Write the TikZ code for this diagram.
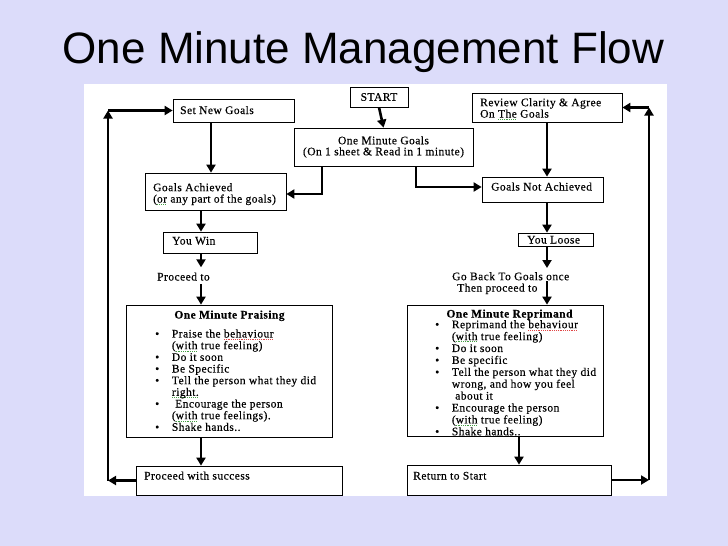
\documentclass[tikz,border=0pt]{standalone}
\usepackage{fontspec}
\setmainfont{Liberation Serif}
\newfontfamily\titlefont{Liberation Sans}
\newfontfamily\boxfont[LetterSpace=4,FakeBold=0.35]{Liberation Serif}
\usetikzlibrary{arrows.meta}
\definecolor{slidebg}{RGB}{220,220,250}
\definecolor{sqred}{RGB}{225,70,70}
\definecolor{sqgreen}{RGB}{70,160,70}
\newsavebox\spellbox
\newcommand\spellmark[2]{\sbox\spellbox{#2}\leavevmode\rlap{\hbox to \wd\spellbox{\color{#1}\xleaders\hbox{\rule[-2.0pt]{0.9pt}{0.6pt}\kern0.9pt}\hfill}}\usebox\spellbox}
\newcommand\spellr[1]{\spellmark{sqred}{#1}}
\newcommand\spellg[1]{\spellmark{sqgreen}{#1}}
\newcommand\bul{\makebox[16.7pt][l]{\textbullet}}
\newcommand\lind{\hspace*{16.7pt}}
\begin{document}
\begin{tikzpicture}[x=1pt,y=-1pt,
  box/.style={draw=black, line width=0.75pt, fill=white, inner sep=0pt, rectangle},
  txt/.style={inner sep=0pt, font=\boxfont\fontsize{11.5}{11.4}\selectfont, align=left},
  txtP/.style={inner sep=0pt, font=\boxfont\fontsize{11.5}{11.67}\selectfont, align=left},
  txtR/.style={inner sep=0pt, font=\boxfont\fontsize{11.5}{11.9}\selectfont, align=left},
  arr/.style={line width=2.6pt, -{Triangle[width=9pt,length=8pt]}},
  titlestyle/.style={inner sep=0pt, font=\titlefont\fontsize{44}{44}\selectfont}]
\fill[slidebg] (0,0) rectangle (728,546);
\useasboundingbox (0,0) rectangle (728,546);
\fill[white] (84,84) rectangle (667,496);

\node[titlestyle, anchor=base] (title) at (363.5,63) {One Minute Management Flow};

% column coordinates
\coordinate (colA) at (211,0);
\coordinate (colB) at (322,0);
\coordinate (colC) at (416,0);
\coordinate (colL) at (201,0);
\coordinate (colR) at (547,0);
\coordinate (colM) at (519,0);
\coordinate (loopL) at (108,0);
\coordinate (loopR) at (649,0);

% boxes
\node[box, minimum width=58pt, minimum height=20pt, font=\boxfont\fontsize{11.5}{11}\selectfont] (start) at (379,97) {START};
\node[box, minimum width=179pt, minimum height=38pt, align=center, font=\boxfont\fontsize{11.5}{11}\selectfont] (omg) at (383.5,147) {One Minute Goals\\(On 1 sheet \& Read in 1 minute)};
\node[box, minimum width=121pt, minimum height=23pt] (sng) at (233.5,110.5) {};
\node[box, minimum width=141pt, minimum height=37pt] (ga) at (215.5,191.5) {};
\node[box, minimum width=94pt, minimum height=21pt] (yw) at (210,242.5) {};
\node[box, minimum width=206pt, minimum height=132pt] (pr) at (229,371) {};
\node[box, minimum width=206pt, minimum height=29pt] (pws) at (239,480.5) {};
\node[box, minimum width=150pt, minimum height=29pt] (rev) at (547,107.5) {};
\node[box, minimum width=121pt, minimum height=25pt] (gna) at (542.5,189.5) {};
\node[box, minimum width=75pt, minimum height=13pt] (yl) at (555.5,239.5) {};
\node[box, minimum width=196pt, minimum height=131pt] (rep) at (505,370.5) {};
\node[box, minimum width=204pt, minimum height=30pt] (rts) at (509,480) {};

% texts
\node[txt, anchor=base west] (tsng) at (180,114) {Set New Goals};
\node[txt, anchor=north west] (tga) at (153,183) {Goals Achieved\\(\spellg{or} any part of the goals)};
\node[txt, anchor=base west] (tyw) at (172,244.5) {You Win};
\node[txt, anchor=base west] (tpt) at (157,280.5) {Proceed to};
\node[txt, anchor=base] (tprh) at (229.5,318.5) {\bfseries One Minute Praising};
\node[txtP, anchor=north west] (tprl) at (155,329.3) {\bul Praise the \spellr{behaviour}\\
\lind(\spellg{with} true feeling)\\
\bul Do it soon\\
\bul Be Specific\\
\bul Tell the person what they did\\
\lind\spellg{right.}\\
\bul\ Encourage the person\\
\lind(\spellg{with} true feelings).\\
\bul Shake hands..};
\node[txt, anchor=base west] (tpws) at (144,479.5) {Proceed with success};

\node[txt, anchor=north west] (trev) at (480,98) {Review Clarity \& Agree\\On \spellg{The} Goals};
\node[txt, anchor=base west] (tgna) at (491,190.5) {Goals Not Achieved};
\node[txt, anchor=base west] (tyl) at (527,243.5) {You Loose};
\node[txt, anchor=north west] (tgb) at (452,272) {Go Back To Goals once\\\hspace*{5pt}Then proceed to};
\node[txt, anchor=base] (treph) at (509.5,317.5) {\bfseries One Minute Reprimand};
\node[txtR, anchor=north west] (trepl) at (435,320) {\bul Reprimand the \spellr{behaviour}\\
\lind(\spellg{with} true feeling)\\
\bul Do it soon\\
\bul Be specific\\
\bul Tell the person what they did\\
\lind wrong, and how you feel\\
\lind\ about it\\
\bul Encourage the person\\
\lind(\spellg{with} true feeling)\\
\bul Shake hands..};
\node[txt, anchor=base west] (trts) at (413,479.5) {Return to Start};
\coordinate (gbout) at (547,281);

% connectors
\draw[arr] (start.south) -- (omg.north);
\draw[arr] (sng.south -| colA) -- (ga.north -| colA);
\draw[arr] (omg.south -| colB) |- ([yshift=-2.5pt]ga.east);
\draw[arr] (omg.south -| colC) |- ([yshift=2.5pt]gna.west);
\draw[arr] (rev.south -| colR) -- (gna.north -| colR);
\draw[arr] (ga.south -| colL) -- (yw.north -| colL);
\draw[arr] (yw.south -| colL) -- ([yshift=5pt]tpt.north -| colL);
\draw[arr] ([yshift=-3.5pt]tpt.south -| colL) -- (pr.north -| colL);
\draw[arr] (pr.south -| colL) -- (pws.north -| colL);
\draw[arr] (gna.south -| colR) -- (yl.north -| colR);
\draw[arr] (yl.south -| colR) -- ([yshift=4pt]tgb.north -| colR);
\draw[arr] (gbout) -- (rep.north -| colR);
\draw[arr] (rep.south -| colM) -- (rts.north -| colM);
% left loop
\draw[arr] (pws.west) -- (pws.west -| loopL);
\draw[arr] (pws.west -| loopL) -- (sng.west -| loopL);
\draw[arr] (sng.west -| loopL) -- (sng.west);
% right loop
\draw[arr] (rts.east) -- (rts.east -| loopR);
\draw[arr] (rts.east -| loopR) -- (rev.east -| loopR);
\draw[arr] (rev.east -| loopR) -- (rev.east);
\end{tikzpicture}
\end{document}
